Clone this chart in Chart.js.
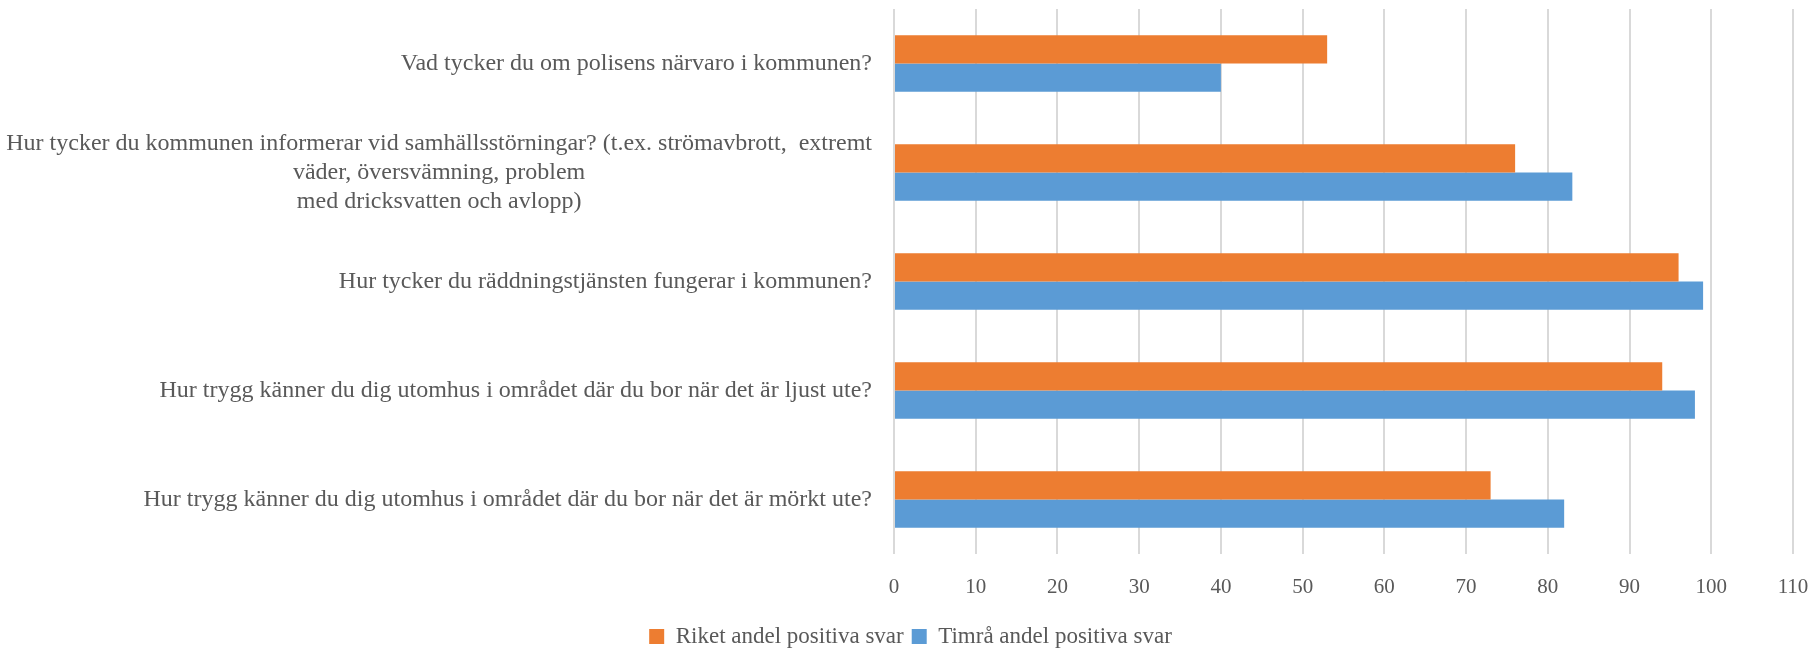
<!DOCTYPE html>
<html>
<head>
<meta charset="utf-8">
<script src="https://cdn.jsdelivr.net/npm/chart.js@4/dist/chart.umd.min.js"></script>
<style>
  html, body { margin: 0; padding: 0; background: #fff; }
  #wrap { width: 1812px; height: 651px; }
</style>
</head>
<body>
<div id="wrap"><canvas id="chart"></canvas></div>
<script>
// frågor (kategorier), flerradiga som arrayer
const questions = [
  ["Vad tycker du om polisens närvaro i kommunen?"],
  ["Hur tycker du kommunen informerar vid samhällsstörningar? (t.ex. strömavbrott,  extremt",
   "väder, översvämning, problem",
   "med dricksvatten och avlopp)"],
  ["Hur tycker du räddningstjänsten fungerar i kommunen?"],
  ["Hur trygg känner du dig utomhus i området där du bor när det är ljust ute?"],
  ["Hur trygg känner du dig utomhus i området där du bor när det är mörkt ute?"]
]

const seriesNames = ["Riket andel positiva svar", "Timrå andel positiva svar"]
const riket = [53, 76, 96, 94, 73]
const timra = [40, 83, 99, 98, 82]

const textColor = '#595959'
const fontFamily = '"Liberation Serif", "DejaVu Serif", serif'

// ritar kategoritexterna: varje etikett centrerad kring sin bredaste rad, högerjusterad mot axeln
const categoryLabels = {
  id: 'categoryLabels',
  afterDraw(chart) {
    const ctx = chart.ctx
    const yScale = chart.scales.y
    const rightEdge = chart.chartArea.left - 22
    const lineHeight = 29
    ctx.save()
    ctx.font = '24px ' + fontFamily
    ctx.fillStyle = textColor
    ctx.textAlign = 'center'
    ctx.textBaseline = 'middle'
    questions.forEach((lines, i) => {
      const y = yScale.getPixelForValue(i)
      const widest = Math.max(...lines.map(l => ctx.measureText(l).width))
      const cx = rightEdge - widest / 2
      const top = y - (lines.length - 1) * lineHeight / 2
      lines.forEach((line, j) => ctx.fillText(line, cx, top + j * lineHeight))
    })
    ctx.restore()
  }
}

new Chart(document.getElementById('chart'), {
  type: 'bar',
  data: {
    labels: questions.map(q => q.join(' ')),
    datasets: [
      {
        label: seriesNames[0],
        data: riket,
        backgroundColor: '#ED7D31',
        categoryPercentage: 0.518,
        barPercentage: 1
      },
      {
        label: seriesNames[1],
        data: timra,
        backgroundColor: '#5B9BD5',
        categoryPercentage: 0.518,
        barPercentage: 1
      }
    ]
  },
  options: {
    indexAxis: 'y',
    responsive: true,
    maintainAspectRatio: false,
    animation: false,
    layout: {
      padding: { top: 9, right: 19, left: 28, bottom: -7 }
    },
    plugins: {
      legend: {
        position: 'bottom',
        labels: {
          boxWidth: 15,
          boxHeight: 15,
          padding: 8,
          color: textColor,
          font: { family: fontFamily, size: 23 }
        }
      },
      tooltip: { enabled: false }
    },
    scales: {
      x: {
        min: 0,
        max: 110,
        ticks: {
          stepSize: 10,
          padding: 1,
          color: textColor,
          font: { family: fontFamily, size: 21 }
        },
        grid: {
          color: '#D9D9D9',
          lineWidth: 2,
          drawTicks: true,
          tickLength: 20,
          tickColor: 'rgba(0,0,0,0)'
        },
        border: { display: false },
        afterFit(scale) {
          scale.height = 63
        }
      },
      y: {
        ticks: { display: false },
        grid: { display: false },
        border: { display: false },
        afterFit(scale) {
          scale.width = 866
        }
      }
    }
  },
  plugins: [categoryLabels]
})
</script>
</body>
</html>
